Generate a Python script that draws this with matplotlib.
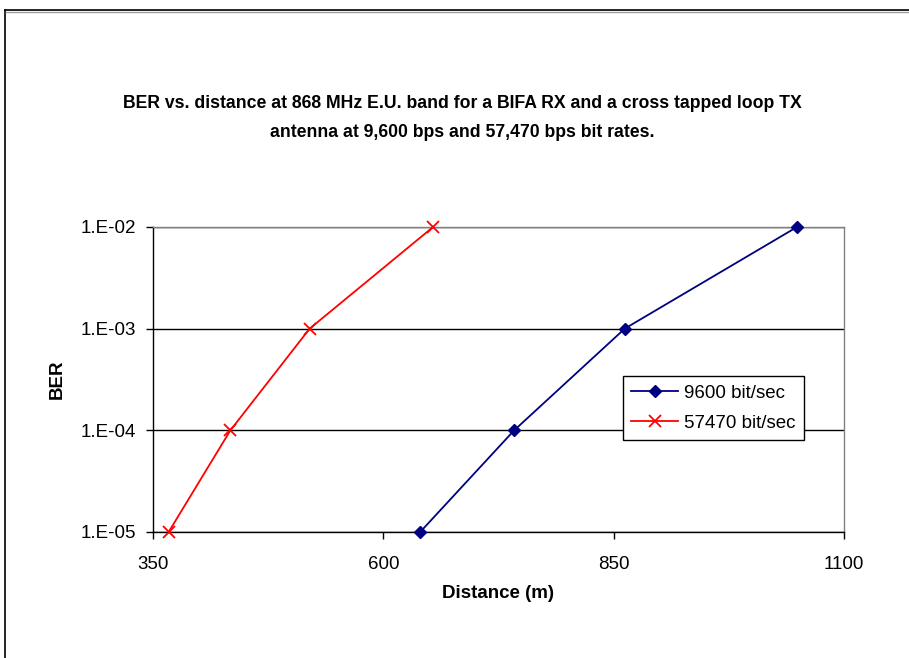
import numpy as np
import matplotlib.pyplot as plt
from matplotlib.lines import Line2D
from matplotlib.ticker import FixedLocator, NullLocator

plt.rcParams["font.family"] = ["Liberation Sans", "DejaVu Sans"]

# distance (m) at which each BER level is reached
ber_levels = [1e-5, 1e-4, 1e-3, 1e-2]
dist_9600 = [640, 742, 862, 1049]
dist_57470 = [367, 434, 520, 654]

x_ticks = [350, 600, 850, 1100]
y_ticks = [1e-5, 1e-4, 1e-3, 1e-2]
y_tick_labels = ["1.E-05", "1.E-04", "1.E-03", "1.E-02"]

title = ("BER vs. distance at 868 MHz E.U. band for a BIFA RX and a cross tapped loop TX\n"
         "antenna at 9,600 bps and 57,470 bps bit rates.")

fig = plt.figure(figsize=(9.09, 6.58), dpi=100)
W, H = 909, 658
ax = fig.add_axes([153 / W, 1 - 532 / H, 691 / W, 305 / H])

ax.plot(dist_9600, ber_levels, color="#000080", linewidth=1.3, marker="D",
        markersize=6.5, label="9600 bit/sec", zorder=3, clip_on=False)
ax.plot(dist_57470, ber_levels, color="#ff0000", linewidth=1.3, marker="x",
        markersize=8, markeredgewidth=1.3, label="57470 bit/sec", zorder=3, clip_on=False)

ax.set_yscale("log")
ax.set_xlim(350, 1100)
ax.set_ylim(1e-5, 1e-2)
ax.xaxis.set_major_locator(FixedLocator(x_ticks))
ax.set_xticklabels([str(t) for t in x_ticks])
ax.yaxis.set_major_locator(FixedLocator(y_ticks))
ax.yaxis.set_minor_locator(NullLocator())
ax.set_yticklabels(y_tick_labels)
ax.tick_params(axis="both", labelsize=13.5, length=5, width=1, color="black", direction="out")
ax.tick_params(axis="x", pad=12)
ax.tick_params(axis="y", pad=7)

ax.grid(True, axis="y", which="major", color="black", linewidth=1)
for side in ("top", "right"):
    ax.spines[side].set_color("#808080")
    ax.spines[side].set_linewidth(1)
for side in ("left", "bottom"):
    ax.spines[side].set_color("black")
    ax.spines[side].set_linewidth(1)

ax.set_xlabel("Distance (m)", fontsize=13.5, fontweight="bold", labelpad=9)
ax.set_ylabel("BER", fontsize=13.5, fontweight="bold", labelpad=11)

fig.text(462 / W, 1 - 118 / H, title, ha="center", va="center", fontsize=12.7,
         fontweight="bold", linespacing=1.85)

leg = ax.legend(loc="upper left", bbox_to_anchor=((623 - 153) / 691, (532 - 376) / 305),
                fontsize=13.5, frameon=True, fancybox=False, borderpad=0.45,
                handlelength=2.5, handletextpad=0.3, labelspacing=0.7, borderaxespad=0)
leg.get_frame().set_edgecolor("black")
leg.get_frame().set_linewidth(1)
leg.get_frame().set_alpha(1)

# outer chart frame
fig.add_artist(Line2D([5 / W, 5 / W], [0, 1 - 10 / H], transform=fig.transFigure,
                      color="black", linewidth=1.2))
fig.add_artist(Line2D([5 / W, 1], [1 - 10 / H, 1 - 10 / H], transform=fig.transFigure,
                      color="black", linewidth=1.2))
fig.add_artist(Line2D([6 / W, 1], [1 - 11.5 / H, 1 - 11.5 / H], transform=fig.transFigure,
                      color="#a0a0a0", linewidth=1))

fig.savefig("out.png", dpi=100)
